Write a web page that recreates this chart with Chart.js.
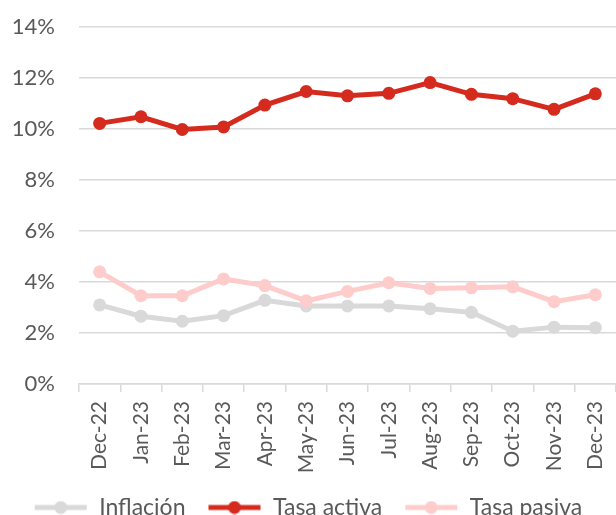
<!DOCTYPE html>
<html>
<head>
<meta charset="utf-8">
<script src="https://cdn.jsdelivr.net/npm/chart.js@4"></script>
<style>
  html, body { margin: 0; padding: 0; background: #fff; overflow: hidden; }
  #wrap { width: 616px; height: 529px; }
</style>
</head>
<body>
<div id="wrap"><canvas id="chart"></canvas></div>
<script>
var months = ['Dec-22', 'Jan-23', 'Feb-23', 'Mar-23', 'Apr-23', 'May-23', 'Jun-23',
              'Jul-23', 'Aug-23', 'Sep-23', 'Oct-23', 'Nov-23', 'Dec-23'];
var inflacion = [3.10, 2.66, 2.46, 2.68, 3.28, 3.06, 3.06, 3.06, 2.95, 2.81, 2.07, 2.23, 2.21];
var tasaActiva = [10.22, 10.48, 9.98, 10.08, 10.94, 11.47, 11.30, 11.40, 11.82, 11.36, 11.19, 10.77, 11.38];
var tasaPasiva = [4.40, 3.46, 3.46, 4.12, 3.86, 3.26, 3.63, 3.97, 3.75, 3.77, 3.81, 3.23, 3.50];
var yTicks = [0, 2, 4, 6, 8, 10, 12, 14];

var FONT = 'Lato, "Open Sans", sans-serif';
var TEXT = '#595959';
var GRID = '#D9D9D9';

// small line+dot marker for the legend
function marker(color) {
    var c = document.createElement('canvas');
    c.width = 54; c.height = 14;
    var g = c.getContext('2d');
    g.strokeStyle = color;
    g.lineWidth = 5;
    g.beginPath(); g.moveTo(1, 7); g.lineTo(53, 7); g.stroke();
    g.fillStyle = color;
    g.beginPath(); g.arc(27, 7, 6.5, 0, Math.PI * 2); g.fill();
    return c;
}

function series(label, data, color, order) {
    return {
        label: label,
        data: data,
        borderColor: color,
        backgroundColor: color,
        borderWidth: 5,
        pointRadius: 6.5,
        pointHoverRadius: 6.5,
        pointBackgroundColor: color,
        pointBorderWidth: 0,
        tension: 0,
        clip: false,
        order: order
    };
}

var ctx = document.getElementById('chart');
var myChart = new Chart(ctx, {
    type: 'line',
    data: {
        labels: months,
        datasets: [
            series('Inflación', inflacion, '#D9D9D9', 3),
            series('Tasa activa', tasaActiva, '#D52B1E', 1),
            series('Tasa pasiva', tasaPasiva, '#FFCCCC', 2)
        ]
    },
    options: {
        responsive: true,
        maintainAspectRatio: false,
        animation: false,
        layout: { autoPadding: false, padding: { top: 27, right: 0, bottom: 0, left: 0 } },
        plugins: {
            tooltip: { enabled: false },
            legend: {
                position: 'bottom',
                labels: {
                    usePointStyle: true,
                    pointStyleWidth: 54,
                    boxHeight: 14,
                    color: TEXT,
                    padding: 22,
                    font: { family: FONT, size: 23 },
                    generateLabels: function (chart) {
                        return chart.data.datasets.map(function (ds, i) {
                            return {
                                text: ds.label,
                                pointStyle: marker(ds.borderColor),
                                fillStyle: ds.borderColor,
                                strokeStyle: ds.borderColor,
                                fontColor: TEXT,
                                lineWidth: 0,
                                hidden: false,
                                datasetIndex: i
                            };
                        });
                    }
                }
            }
        },
        scales: {
            x: {
                offset: true,
                grid: {
                    offset: true,
                    drawOnChartArea: false,
                    drawTicks: true,
                    tickLength: 8,
                    color: GRID,
                    lineWidth: 1.5
                },
                border: { color: GRID, width: 1.5 },
                ticks: {
                    color: TEXT,
                    font: { family: FONT, size: 21 },
                    minRotation: 90,
                    maxRotation: 90,
                    padding: 9,
                    autoSkip: false
                },
                afterFit: function (s) {
                    s.height = 90;
                    s.paddingLeft = 0;
                    s.paddingRight = 0;
                }
            },
            y: {
                min: 0,
                max: 14,
                afterBuildTicks: function (s) {
                    s.ticks = yTicks.map(function (v) { return { value: v }; });
                },
                grid: { color: GRID, lineWidth: 1.5, drawTicks: false },
                border: { display: false },
                ticks: {
                    color: TEXT,
                    font: { family: FONT, size: 22 },
                    padding: 24,
                    callback: function (v) { return v + '%'; }
                },
                afterFit: function (s) {
                    s.width = 79;
                    s.paddingTop = 0;
                    s.paddingBottom = 0;
                }
            }
        }
    }
});
</script>
</body>
</html>
